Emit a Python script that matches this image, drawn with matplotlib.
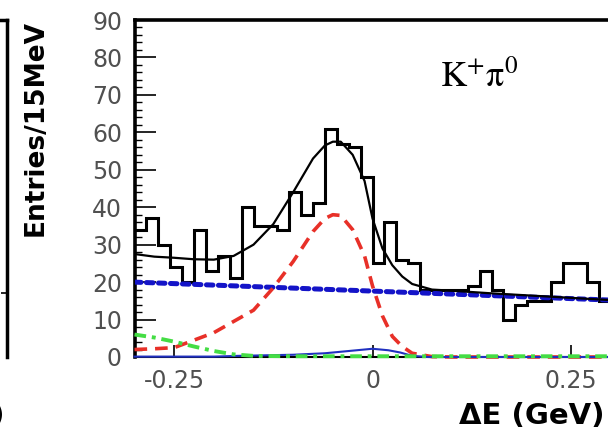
import numpy as np
import matplotlib
matplotlib.use("Agg")
import matplotlib.pyplot as plt

# histogram: 15 MeV bins from -0.3 to 0.3 GeV
bin_lo = -0.3
bin_w = 0.015
counts = [34, 37, 30, 24, 20, 34, 23, 27, 21, 40,
          35, 35, 34, 44, 38, 41, 61, 57, 56, 48,
          25, 36, 26, 25, 18, 18, 18, 18, 19, 23,
          18, 10, 14, 15, 15, 20, 25, 25, 20, 15]

# fit components
fit_x = [-0.3, -0.275, -0.25, -0.225, -0.2, -0.175, -0.15, -0.125, -0.1, -0.075,
         -0.06, -0.05, -0.04, -0.025, -0.01, 0.0, 0.0125, 0.025, 0.0375, 0.05,
         0.075, 0.1, 0.15, 0.2, 0.25, 0.3]
total = [27.5, 26.8, 26.5, 26.1, 26.0, 27.0, 30.0, 35.5, 44.0, 53.0,
         56.5, 57.5, 57.5, 54.0, 47.0, 37.0, 29.0, 24.5, 21.5, 19.5,
         18.0, 17.7, 17.0, 16.4, 15.8, 15.2]
signal = [2.0, 2.2, 2.5, 4.5, 6.5, 9.5, 12.5, 18.5, 25.5, 33.5,
          37.0, 38.0, 37.8, 34.0, 27.0, 19.0, 11.0, 5.5, 2.8, 1.0,
          0.1, 0.0, 0.0, 0.0, 0.0, 0.0]

qq_x = [-0.3, -0.15, 0.0, 0.15, 0.3]
qq_y = [20.0, 18.8, 17.6, 16.4, 15.2]

feed_x = [-0.3, -0.275, -0.25, -0.225, -0.2, -0.175, -0.15, -0.1, 0.0, 0.1, 0.2, 0.3]
feed_y = [6.0, 5.2, 4.1, 2.8, 1.6, 0.7, 0.3, 0.2, 0.2, 0.2, 0.2, 0.2]

bb_x = [-0.3, -0.2, -0.17, -0.1, -0.06, -0.03, 0.0, 0.02, 0.035, 0.05, 0.07, 0.3]
bb_y = [0.1, 0.1, 0.3, 0.6, 1.0, 1.6, 2.2, 1.8, 1.2, 0.3, 0.0, 0.0]

x_ticks = [-0.25, 0, 0.25]
x_tick_labels = ["-0.25", "0", "0.25"]

plt.rcParams["mathtext.fontset"] = "stix"

W, H = 608, 430
fig = plt.figure(figsize=(W / 100, H / 100), dpi=100)

# main panel, right edge runs just past the picture
x0, x1, y0, y1 = 134.5, 610.5, 357.0, 20.0
ax = fig.add_axes([x0 / W, (H - y0) / H, (x1 - x0) / W, (y0 - y1) / H])

# remnant of the neighbouring panel on the far left
axl = fig.add_axes([-200 / W, (H - y0) / H, 207 / W, (y0 - y1) / H])
axl.set_xlim(0, 1)
axl.set_ylim(0, 53)
for s in ["left", "bottom"]:
    axl.spines[s].set_visible(False)
for s in ["right", "top"]:
    axl.spines[s].set_linewidth(2.5)
axl.yaxis.tick_right()
axl.set_yticks([10])
axl.set_yticklabels([])
axl.tick_params(axis="y", direction="in", length=4, width=1.2)
axl.set_xticks([])
axl.set_xlabel("ΔE (GeV)", fontsize=21, fontweight="bold",
               family="DejaVu Sans", ha="right")
axl.xaxis.set_label_coords(0.988, -0.135)
axl.patch.set_alpha(0)

edges = bin_lo + bin_w * np.arange(len(counts) + 1)
ax.stairs(counts, edges, color="black", lw=2.2, baseline=None, zorder=2)

ax.plot(qq_x, qq_y, color="#1414c8", lw=3.6, ls=(0, (1.3, 1.1)),
        dash_capstyle="round", zorder=3)
ax.plot(fit_x, signal, color="#e83028", lw=2.6, ls=(0, (3.5, 2.2)),
        zorder=3, clip_on=False)
ax.plot(bb_x, bb_y, color="#2030c0", lw=1.5, zorder=3, clip_on=False)
ax.plot(feed_x, feed_y, color="#44dd44", lw=2.8, ls=(0, (3, 1.5, 1, 1.5)),
        zorder=4, clip_on=False)
ax.plot(fit_x, total, color="black", lw=1.6, zorder=4)

ax.set_xlim(-0.3, 0.3)
ax.set_ylim(0, 90)
ax.set_yticks(range(0, 91, 10))
ax.set_yticks(range(0, 91, 2), minor=True)
ax.set_xticks(x_ticks)
ax.set_xticklabels(x_tick_labels)

ax.tick_params(axis="y", which="major", direction="in", length=15, width=1.2,
               labelsize=17, labelcolor="#505050", pad=9)
ax.tick_params(axis="y", which="minor", direction="in", length=5, width=1.0)
ax.tick_params(axis="x", which="major", direction="in", length=9, width=1.2,
               labelsize=17, labelcolor="#505050", pad=9)
for lab in ax.get_xticklabels() + ax.get_yticklabels():
    lab.set_family("DejaVu Sans")

for s in ["left", "top", "right"]:
    ax.spines[s].set_linewidth(2.6)
ax.spines["bottom"].set_linewidth(1.5)

ax.set_ylabel("Entries/15MeV", fontsize=19, fontweight="bold",
              family="DejaVu Sans", ha="right")
ax.yaxis.set_label_coords(-0.18, 1.0)
ax.set_xlabel("ΔE (GeV)", fontsize=21, fontweight="bold",
              family="DejaVu Sans", ha="right")
ax.xaxis.set_label_coords(0.988, -0.135)

ax.text(0.723, 0.83, r"$\mathrm{K}^{+}\mathrm{\pi}^{0}$", transform=ax.transAxes,
        fontsize=26, ha="center", va="center")

fig.savefig("out.png", dpi=100)
